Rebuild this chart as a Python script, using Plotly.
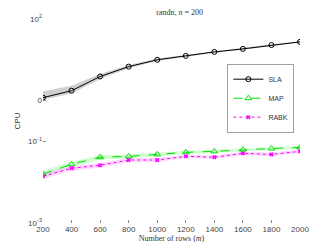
import plotly.graph_objects as go

rows = [200, 400, 600, 800, 1000, 1200, 1400, 1600, 1800, 2000]

sla = [1.18, 1.75, 3.9, 6.8, 10.0, 12.5, 15.6, 18.5, 23.0, 27.5]
sla_lo = [1.05, 1.5, 3.4, 6.2, 9.3, 11.8, 14.8, 17.6, 22.0, 26.5]
sla_hi = [1.7, 2.3, 4.5, 7.5, 10.8, 13.3, 16.4, 19.5, 24.0, 28.5]

map_ = [0.0158, 0.0275, 0.041, 0.043, 0.048, 0.054, 0.057, 0.063, 0.067, 0.071]
map_lo = [0.013, 0.023, 0.036, 0.038, 0.043, 0.049, 0.052, 0.058, 0.062, 0.066]
map_hi = [0.019, 0.032, 0.046, 0.048, 0.053, 0.059, 0.062, 0.068, 0.072, 0.077]

rabk = [0.014, 0.022, 0.026, 0.035, 0.035, 0.043, 0.041, 0.051, 0.048, 0.057]
rabk_lo = [0.012, 0.019, 0.023, 0.031, 0.031, 0.039, 0.037, 0.046, 0.044, 0.052]
rabk_hi = [0.017, 0.025, 0.029, 0.039, 0.039, 0.047, 0.045, 0.056, 0.053, 0.062]

ytick_vals = [1e-3, 1e-1, 1, 1e2]
ytick_text = ["10<sup>-3</sup>", "10<sup>-1</sup>", "0", "10<sup>2</sup>"]
xtick_vals = rows

fig = go.Figure()

def band(lo, hi, color):
    fig.add_trace(go.Scatter(x=rows, y=hi, mode="lines", line=dict(width=0),
                             showlegend=False, hoverinfo="skip"))
    fig.add_trace(go.Scatter(x=rows, y=lo, mode="lines", line=dict(width=0),
                             fill="tonexty", fillcolor=color,
                             showlegend=False, hoverinfo="skip"))

band(sla_lo, sla_hi, "rgba(150,150,150,0.45)")
band(map_lo, map_hi, "rgba(120,255,120,0.35)")
band(rabk_lo, rabk_hi, "rgba(255,140,255,0.35)")

fig.add_trace(go.Scatter(x=rows, y=sla, name="SLA", mode="lines+markers",
                         line=dict(color="black", width=1),
                         marker=dict(symbol="circle-open", size=5, color="black",
                                     line=dict(width=1))))
fig.add_trace(go.Scatter(x=rows, y=map_, name="MAP", mode="lines+markers",
                         line=dict(color="#00e000", width=1, dash="dash"),
                         marker=dict(symbol="triangle-up-open", size=6, color="#00e000",
                                     line=dict(width=1))))
fig.add_trace(go.Scatter(x=rows, y=rabk, name="RABK", mode="lines+markers",
                         line=dict(color="#ff00ff", width=1, dash="dot"),
                         marker=dict(symbol="x", size=4, color="#ff00ff",
                                     line=dict(width=0))))

fig.update_layout(
    width=324, height=241,
    margin=dict(l=35, r=32, t=11, b=26, autoexpand=False),
    plot_bgcolor="white", paper_bgcolor="white",
    font=dict(family="Liberation Sans, Arial", size=8, color="#444"),
    title=dict(text="randn, <i>n</i> = 200", x=0.53, xanchor="center", y=0.982, yanchor="middle",
               font=dict(family="Liberation Serif, Times New Roman", size=8, color="#333")),
    legend=dict(x=0.975, xanchor="right", y=0.78, yanchor="top",
                bordercolor="#888", borderwidth=0.8, bgcolor="white",
                font=dict(size=7, color="#333"), itemwidth=30,
                tracegroupgap=0, traceorder="normal"),
    showlegend=True,
)
fig.update_xaxes(range=[200, 2000], tickvals=xtick_vals, ticks="inside", ticklen=3,
                 tickcolor="#888", showgrid=False, zeroline=False, showline=False,
                 automargin=False,
                 title=dict(text="Number of rows (<i>m</i>)", standoff=1,
                            font=dict(family="Liberation Serif, Times New Roman", size=8, color="#333")),
                 tickfont=dict(size=8, color="#444"))
fig.update_yaxes(type="log", range=[-3, 2], tickvals=ytick_vals, ticktext=ytick_text,
                 ticks="inside", ticklen=3, tickcolor="#888", showgrid=False,
                 zeroline=False, showline=False, automargin=False,
                 title=dict(text="CPU", standoff=6, font=dict(size=8, color="#333")),
                 tickfont=dict(size=8, color="#444"))

fig.write_html("out.html")
